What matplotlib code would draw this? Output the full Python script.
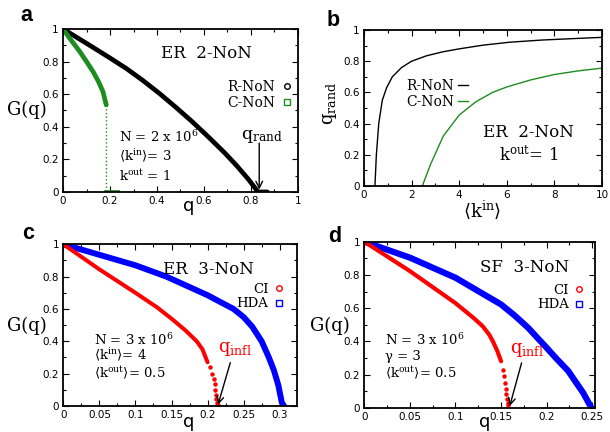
import matplotlib
matplotlib.use('Agg')
import matplotlib.pyplot as plt
from matplotlib.ticker import MultipleLocator, FuncFormatter
from matplotlib.lines import Line2D

plt.rcParams['mathtext.fontset'] = 'dejavuserif'
plt.rcParams['font.family'] = 'DejaVu Sans'

SERIF = 'DejaVu Serif'
GREEN = '#1e8c1e'

# ---------------- data ----------------
# panel a: G(q) for ER 2-NoN
a_rnon_q = [0, 0.1, 0.2, 0.27, 0.34, 0.41, 0.48, 0.55, 0.62, 0.69, 0.74, 0.79, 0.83, 0.87]
a_rnon_G = [1, 0.912, 0.822, 0.757, 0.684, 0.605, 0.52, 0.431, 0.336, 0.237, 0.16, 0.076, 0.0, 0.0]
a_cnon_q = [0, 0.03, 0.072, 0.1, 0.128, 0.15, 0.17, 0.184]
a_cnon_G = [1, 0.94, 0.86, 0.80, 0.738, 0.68, 0.616, 0.534]
a_cnon_drop_q = [0.184, 0.184]
a_cnon_drop_G = [0.534, 0.0]
a_cnon_zero_q = [0.184, 0.23]
a_cnon_zero_G = [0.0, 0.0]

# panel b: q_rand vs <k_in>
b_rnon_k = [0.46, 0.52, 0.62, 0.77, 0.95, 1.19, 1.58, 2.0, 2.63, 3.3, 4.03, 5.0, 6.13, 7.5, 8.8, 10]
b_rnon_q = [0, 0.2, 0.4, 0.55, 0.63, 0.70, 0.76, 0.80, 0.835, 0.86, 0.88, 0.903, 0.922, 0.936, 0.945, 0.953]
b_cnon_k = [2.45, 2.8, 3.33, 4.0, 4.7, 5.4, 6.0, 7.0, 8.0, 9.0, 10]
b_cnon_q = [0, 0.14, 0.32, 0.455, 0.54, 0.60, 0.635, 0.68, 0.715, 0.738, 0.756]

# panel c: ER 3-NoN
c_hda_q = [0, 0.05, 0.1, 0.143, 0.2, 0.236, 0.25, 0.262, 0.275, 0.285, 0.292, 0.298, 0.303, 0.306]
c_hda_G = [1, 0.935, 0.87, 0.80, 0.685, 0.60, 0.55, 0.49, 0.40, 0.30, 0.22, 0.13, 0.02, 0.0]
c_ci_q = [0, 0.05, 0.1, 0.13, 0.15, 0.17, 0.185, 0.193, 0.2]
c_ci_G = [1, 0.845, 0.70, 0.61, 0.54, 0.465, 0.40, 0.35, 0.27]
c_ci_tail_q = [0.2037, 0.2065, 0.2083, 0.2097, 0.2106, 0.2116, 0.212, 0.213, 0.2139]
c_ci_tail_G = [0.24, 0.20, 0.165, 0.134, 0.10, 0.07, 0.045, 0.02, 0.004]

# panel d: SF 3-NoN
d_hda_q = [0, 0.05, 0.1, 0.15, 0.165, 0.18, 0.19, 0.2, 0.21, 0.2237, 0.23, 0.24, 0.249]
d_hda_G = [1, 0.904, 0.783, 0.622, 0.555, 0.48, 0.42, 0.361, 0.30, 0.221, 0.17, 0.09, 0.0]
d_ci_q = [0, 0.05, 0.1, 0.12, 0.13, 0.137, 0.141, 0.146, 0.15]
d_ci_G = [1, 0.823, 0.63, 0.54, 0.49, 0.44, 0.40, 0.34, 0.28]
d_ci_tail_q = [0.152, 0.153, 0.1542, 0.155, 0.1557, 0.1564, 0.1572, 0.1579]
d_ci_tail_G = [0.23, 0.19, 0.15, 0.11, 0.08, 0.05, 0.03, 0.014]

# ---------------- figure ----------------
fig = plt.figure(figsize=(6.1, 4.32), dpi=100)
axa = fig.add_axes([0.1033, 0.5556, 0.3852, 0.3773])
axb = fig.add_axes([0.5967, 0.5694, 0.3902, 0.3611])
axc = fig.add_axes([0.1038, 0.0602, 0.3831, 0.3743])
axd = fig.add_axes([0.5972, 0.0562, 0.3782, 0.3843])

fmt = FuncFormatter(lambda v, p: '%g' % round(v, 4))


def style(ax, xlim, ylim, xmaj, xmin, ymaj, ymin):
    ax.set_xlim(*xlim)
    ax.set_ylim(*ylim)
    ax.xaxis.set_major_locator(MultipleLocator(xmaj))
    ax.xaxis.set_minor_locator(MultipleLocator(xmin))
    ax.yaxis.set_major_locator(MultipleLocator(ymaj))
    ax.yaxis.set_minor_locator(MultipleLocator(ymin))
    ax.xaxis.set_major_formatter(fmt)
    ax.yaxis.set_major_formatter(fmt)
    ax.tick_params(which='both', direction='in', top=True, right=True,
                   labelsize=7.5, width=0.8, pad=3)
    ax.tick_params(which='major', length=4.5)
    ax.tick_params(which='minor', length=2.3)
    for s in ax.spines.values():
        s.set_linewidth(1.3)


def arrow(ax, start, end):
    ax.annotate('', xy=end, xytext=start,
                arrowprops=dict(arrowstyle='->', color='black', lw=1.0,
                                shrinkA=0, shrinkB=0, mutation_scale=12))


TXT = 9.5

# ---- panel a ----
style(axa, (0, 1), (0, 1), 0.2, 0.1, 0.2, 0.1)
axa.plot(a_rnon_q, a_rnon_G, color='black', lw=3.4, solid_capstyle='round')
axa.plot(a_cnon_q, a_cnon_G, color=GREEN, lw=3.4, solid_capstyle='round')
axa.plot(a_cnon_drop_q, a_cnon_drop_G, color=GREEN, lw=1.0, ls=':')
axa.plot(a_cnon_zero_q, a_cnon_zero_G, color=GREEN, lw=3.4)
axa.text(0.61, 0.85, 'ER  2-NoN', family=SERIF, fontsize=12, ha='center', va='center')
axa.text(0.24, 0.34, 'N = 2 x 10$^{6}$', family=SERIF, fontsize=TXT, va='center')
axa.text(0.24, 0.216, r'$\langle\mathrm{k}^{\mathrm{in}}\rangle$= 3', family=SERIF, fontsize=TXT, va='center')
axa.text(0.24, 0.10, r'k$^{\mathrm{out}}$ = 1', family=SERIF, fontsize=TXT, va='center')
axa.text(0.756, 0.343, r'q$_{\mathrm{rand}}$', family=SERIF, fontsize=12.5, va='center', ha='left')
arrow(axa, (0.835, 0.30), (0.835, 0.015))
ha_ = [Line2D([], [], marker='o', mfc='none', mec='black', ls='none', ms=4, mew=1),
       Line2D([], [], marker='s', mfc='none', mec=GREEN, ls='none', ms=4, mew=1)]
axa.legend(ha_, ['R-NoN', 'C-NoN'], loc='upper right', bbox_to_anchor=(0.975, 0.69),
           frameon=False, markerfirst=False, handlelength=0.8, handletextpad=0.4,
           labelspacing=0.15, borderpad=0, borderaxespad=0,
           prop={'family': SERIF, 'size': 10})
axa.text(0.533, -0.115, 'q', transform=axa.transAxes, fontsize=13, ha='center', va='baseline')
axa.text(-0.238, 0.472, 'G(q)', transform=axa.transAxes, family=SERIF, fontsize=13, ha='left', va='baseline')

# ---- panel b ----
style(axb, (0, 10), (0, 1), 2, 1, 0.2, 0.1)
axb.plot(b_rnon_k, b_rnon_q, color='black', lw=1.0)
axb.plot(b_cnon_k, b_cnon_q, color=GREEN, lw=1.0)
axb.text(6.9, 0.34, 'ER  2-NoN', family=SERIF, fontsize=12, ha='center', va='center')
axb.text(6.9, 0.20, r'k$^{\mathrm{out}}$= 1', family=SERIF, fontsize=12, ha='center', va='center')
hb = [Line2D([], [], color='black', lw=1.0), Line2D([], [], color=GREEN, lw=1.0)]
axb.legend(hb, ['R-NoN', 'C-NoN'], loc='upper right', bbox_to_anchor=(0.437, 0.685),
           frameon=False, markerfirst=False, handlelength=0.75, handletextpad=0.25,
           labelspacing=0.15, borderpad=0, borderaxespad=0,
           prop={'family': SERIF, 'size': 10})
axb.text(0.496, -0.2, r'$\langle\mathrm{k}^{\mathrm{in}}\rangle$', transform=axb.transAxes,
         family=SERIF, fontsize=13, ha='center', va='baseline')
axb.text(-0.143, 0.532, r'q$_{\mathrm{rand}}$', transform=axb.transAxes, family=SERIF,
         fontsize=13, ha='center', va='center', rotation=90)

# ---- panel c ----
style(axc, (0, 0.324), (0, 1), 0.05, 0.025, 0.2, 0.1)
axc.plot(c_hda_q, c_hda_G, color='blue', lw=4.3, solid_capstyle='round')
axc.plot(c_ci_q, c_ci_G, color='red', lw=2.9, solid_capstyle='round')
axc.plot(c_ci_tail_q, c_ci_tail_G, color='red', ls='none', marker='o', ms=2.2)
axc.text(0.201, 0.845, 'ER  3-NoN', family=SERIF, fontsize=12, ha='center', va='center')
axc.text(0.042, 0.406, 'N = 3 x 10$^{6}$', family=SERIF, fontsize=TXT, va='center')
axc.text(0.042, 0.31, r'$\langle\mathrm{k}^{\mathrm{in}}\rangle$= 4', family=SERIF, fontsize=TXT, va='center')
axc.text(0.042, 0.206, r'$\langle\mathrm{k}^{\mathrm{out}}\rangle$= 0.5', family=SERIF, fontsize=TXT, va='center')
axc.text(0.215, 0.35, r'q$_{\mathrm{infl}}$', family=SERIF, fontsize=13, color='red', va='center')
arrow(axc, (0.2315, 0.268), (0.2145, 0.008))
hc = [Line2D([], [], marker='o', mfc='none', mec='red', ls='none', ms=4, mew=1),
      Line2D([], [], marker='s', mfc='none', mec='blue', ls='none', ms=4, mew=1)]
axc.legend(hc, ['CI', 'HDA'], loc='upper right', bbox_to_anchor=(0.945, 0.76),
           frameon=False, markerfirst=False, handlelength=0.8, handletextpad=0.4,
           labelspacing=0.1, borderpad=0, borderaxespad=0,
           prop={'family': SERIF, 'size': 9.5})
axc.text(0.538, -0.13, 'q', transform=axc.transAxes, fontsize=13, ha='center', va='baseline')
axc.text(-0.242, 0.463, 'G(q)', transform=axc.transAxes, family=SERIF, fontsize=13, ha='left', va='baseline')

# ---- panel d ----
style(axd, (0, 0.253), (0, 1), 0.05, 0.025, 0.2, 0.1)
axd.plot(d_hda_q, d_hda_G, color='blue', lw=4.5, solid_capstyle='round')
axd.plot(d_ci_q, d_ci_G, color='red', lw=3.0, solid_capstyle='round')
axd.plot(d_ci_tail_q, d_ci_tail_G, color='red', ls='none', marker='o', ms=2.2)
axd.text(0.176, 0.843, 'SF  3-NoN', family=SERIF, fontsize=12, ha='center', va='center')
axd.text(0.0227, 0.41, 'N = 3 x 10$^{6}$', family=SERIF, fontsize=TXT, va='center')
axd.text(0.0227, 0.31, 'γ = 3', family=SERIF, fontsize=TXT, va='center')
axd.text(0.0227, 0.21, r'$\langle\mathrm{k}^{\mathrm{out}}\rangle$= 0.5', family=SERIF, fontsize=TXT, va='center')
axd.text(0.16, 0.35, r'q$_{\mathrm{infl}}$', family=SERIF, fontsize=13, color='red', va='center')
arrow(axd, (0.1725, 0.27), (0.1595, 0.01))
axd.legend(hc, ['CI', 'HDA'], loc='upper right', bbox_to_anchor=(0.955, 0.745),
           frameon=False, markerfirst=False, handlelength=0.8, handletextpad=0.4,
           labelspacing=0.1, borderpad=0, borderaxespad=0,
           prop={'family': SERIF, 'size': 9.5})
axd.text(0.523, -0.118, 'q', transform=axd.transAxes, fontsize=13, ha='center', va='baseline')
axd.text(-0.235, 0.462, 'G(q)', transform=axd.transAxes, family=SERIF, fontsize=13, ha='left', va='baseline')

# panel letters
for lab, x, y in [('a', 0.034, 0.951), ('b', 0.5356, 0.940), ('c', 0.0356, 0.446), ('d', 0.538, 0.44)]:
    fig.text(x, y, lab, family='Liberation Sans', fontweight='bold', fontsize=15.5,
             ha='left', va='baseline')

fig.savefig('out.png', dpi=100)
